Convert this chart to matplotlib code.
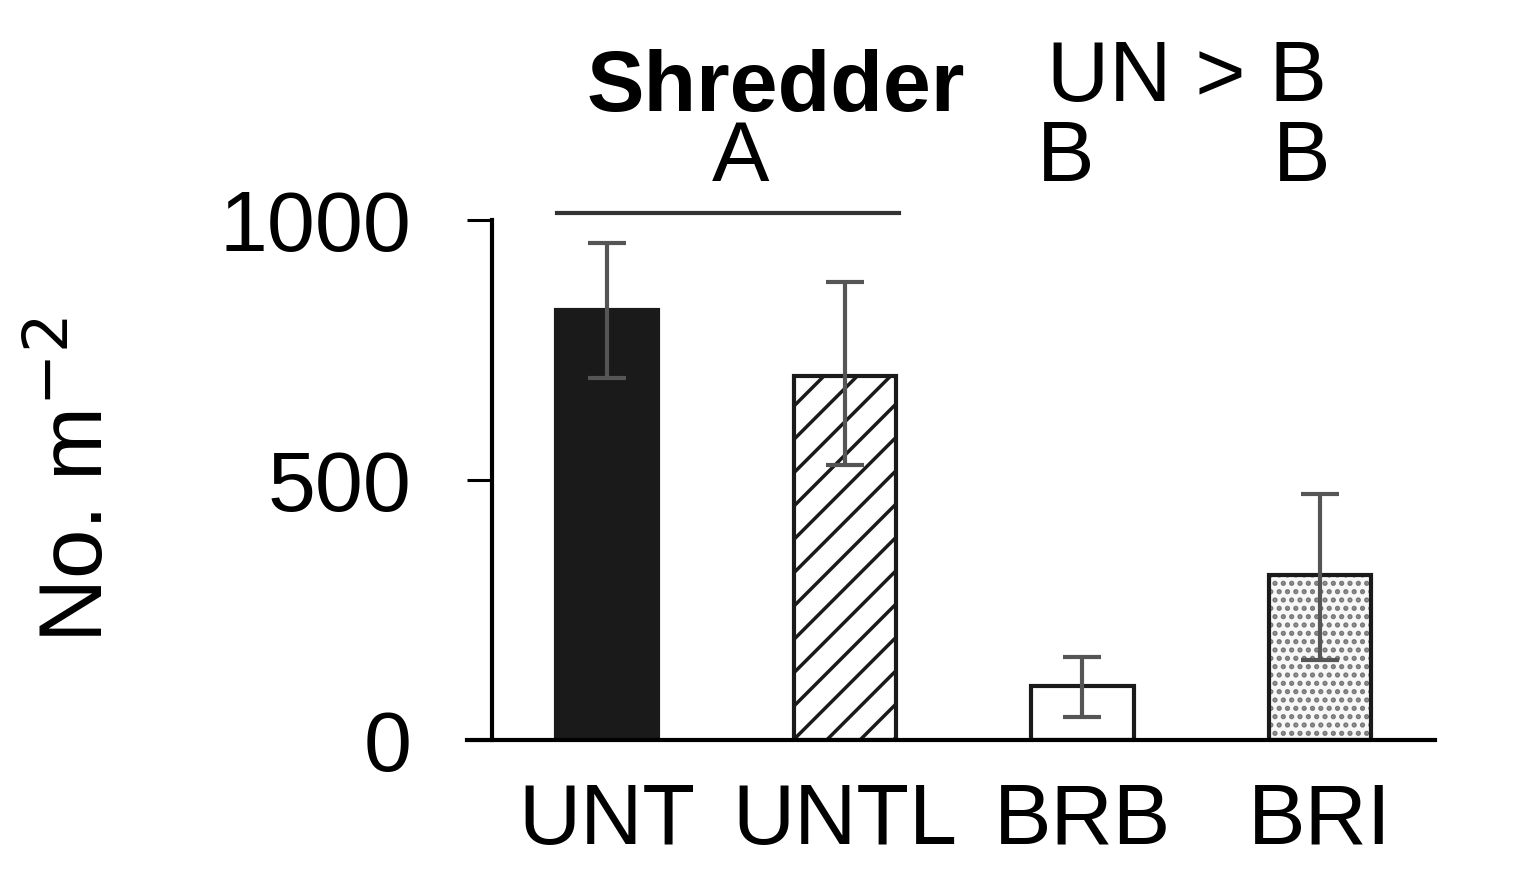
import matplotlib
matplotlib.use('Agg')
import matplotlib.pyplot as plt

plt.rcParams['font.family'] = ['Liberation Sans', 'DejaVu Sans']
plt.rcParams['hatch.linewidth'] = 2.5

categories = ['UNT', 'UNTL', 'BRB', 'BRI']
means = [827, 700, 104, 317]
err_hi = [956, 881, 160, 473]
err_lo = [696, 529, 44, 154]
group_letters = ['A', 'B', 'B']

fig = plt.figure(figsize=(15.15, 8.85), dpi=100)
ax = fig.add_axes([492/1515, 145/885, (1435-492)/1515, 520/885])

x = list(range(len(categories)))
w = 0.43
styles = [dict(color='#1a1a1a', hatch=None, hc='#1a1a1a'),
          dict(color='white', hatch='/', hc='#1a1a1a'),
          dict(color='white', hatch=None, hc='#1a1a1a'),
          dict(color='#f7f7f7', hatch='..', hc='#777777')]
for i, s in enumerate(styles):
    b = ax.bar(x[i], means[i], width=w, facecolor=s['color'], edgecolor=s['hc'],
               linewidth=0, hatch=s['hatch'], zorder=2)
    ax.bar(x[i], means[i], width=w, facecolor='none', edgecolor='#1a1a1a',
           linewidth=3, zorder=2.5)
    ax.errorbar(x[i], means[i],
                yerr=[[means[i]-err_lo[i]], [err_hi[i]-means[i]]],
                color='#555555', elinewidth=3, capsize=14, capthick=3, zorder=3)

ax.set_xlim(-0.484, 3.483)
ax.set_ylim(0, 1000)
ax.set_yticks([0, 500, 1000])
ax.set_xticks(x)
ax.set_xticklabels(categories)
for s in ['top', 'right']:
    ax.spines[s].set_visible(False)
ax.spines['left'].set_linewidth(3)
ax.spines['bottom'].set_linewidth(3)
ax.spines['bottom'].set_bounds(-0.59, 3.483)
ax.tick_params(axis='y', length=18, width=2.2, labelsize=62, pad=40)
ax.tick_params(axis='x', length=0, labelsize=62, pad=30)
ax.set_ylabel('No. m$^{-2}$', fontsize=64, labelpad=70)

# group annotations
ax.plot([-0.21, 1.23], [1013, 1013], color='#333333', lw=3, clip_on=False)
ax.text(0.56, 1040, group_letters[0], fontsize=62, ha='center', va='bottom')
ax.text(1.93, 1040, group_letters[1], fontsize=62, ha='center', va='bottom')
ax.text(2.92, 1040, group_letters[2], fontsize=62, ha='center', va='bottom')
ax.text(0.71, 1175, 'Shredder', fontsize=62, fontweight='bold', ha='center', va='bottom')
ax.text(2.44, 1195, 'UN > B', fontsize=62, ha='center', va='bottom')

fig.savefig('out.png', dpi=100)
